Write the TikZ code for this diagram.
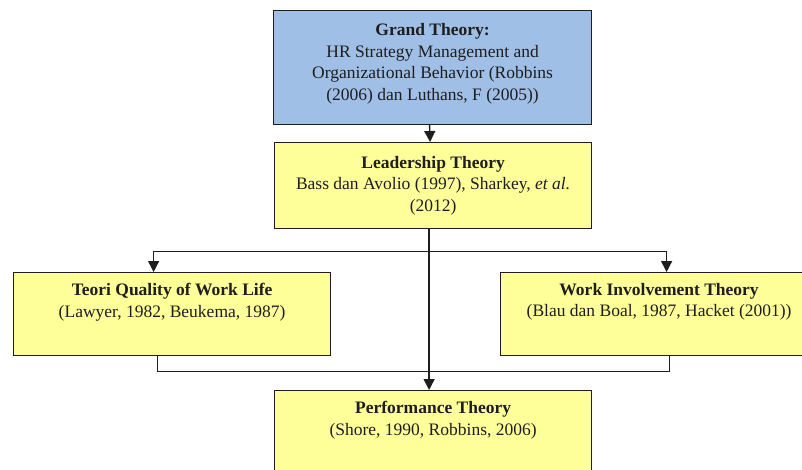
\documentclass[tikz,border=0pt]{standalone}
\usepackage{fontspec}
\setmainfont{Liberation Serif}
\usetikzlibrary{arrows.meta,calc}
\definecolor{gblue}{RGB}{160,191,230}
\definecolor{gyellow}{RGB}{255,255,153}
\definecolor{ink}{RGB}{30,30,30}
\tikzset{
  box/.style={draw=ink, line width=1.2pt, rectangle, inner sep=0pt, anchor=north west},
  txt/.style={align=center, inner sep=0pt, text=ink, font=\fontsize{17.5}{21.6}\selectfont},
  conn/.style={draw=ink, line width=1.4pt},
  arr/.style={conn, -{Triangle[length=11pt,width=11pt]}}
}
\begin{document}
\begin{tikzpicture}[x=1pt,y=1pt]
\useasboundingbox (0,0) rectangle (802,-469);
% boxes
\node[box, fill=gblue, minimum width=318pt, minimum height=114pt] (grand) at (273,-10) {};
\node[box, fill=gyellow, minimum width=317pt, minimum height=86pt] (leader) at (274,-142) {};
\node[box, fill=gyellow, minimum width=317pt, minimum height=83pt] (left) at (13,-272) {};
\node[box, fill=gyellow, minimum width=317pt, minimum height=83pt] (right) at (500,-272) {};
\node[box, fill=gyellow, minimum width=317pt, minimum height=90pt] (perf) at (274,-390) {};
% texts
\node[txt] (grandt) at ($(grand.center)+(0,4)$) {\textbf{Grand Theory:}\\HR Strategy Management and\\Organizational Behavior (Robbins\\(2006) dan Luthans, F (2005))};
\node[txt] (leadert) at (leader.center) {\textbf{Leadership Theory}\\Bass dan Avolio (1997), Sharkey, \textit{et al.}\\(2012)};
\node[txt, anchor=north] (leftt) at ($(left.north)+(0,-11)$) {\textbf{Teori Quality of Work Life}\\(Lawyer, 1982, Beukema, 1987)};
\node[txt, anchor=north] (rightt) at ($(right.north)+(0,-11)$) {\textbf{Work Involvement Theory}\\(Blau dan Boal, 1987, Hacket (2001))};
\node[txt, anchor=north] (perft) at ($(perf.north)+(0,-11)$) {\textbf{Performance Theory}\\(Shore, 1990, Robbins, 2006)};
% connectors
\draw[arr] ([xshift=-3pt]grand.south) -- ([xshift=-3pt]leader.north);
\draw[arr] ([xshift=-4pt]leader.south) -- ([xshift=-4pt]perf.north);
\coordinate (split) at ($([xshift=-4pt]leader.south)+(0,-22)$);
\draw[arr] (split) -| ([xshift=-18.5pt]left.north);
\draw[arr] (split) -| ([xshift=7.5pt]right.north);
\draw[conn] ([xshift=-14.5pt]left.south) |- ($([xshift=-14.5pt]left.south)+(0,-15)$) -| ([xshift=10.5pt]right.south);
\end{tikzpicture}
\end{document}
